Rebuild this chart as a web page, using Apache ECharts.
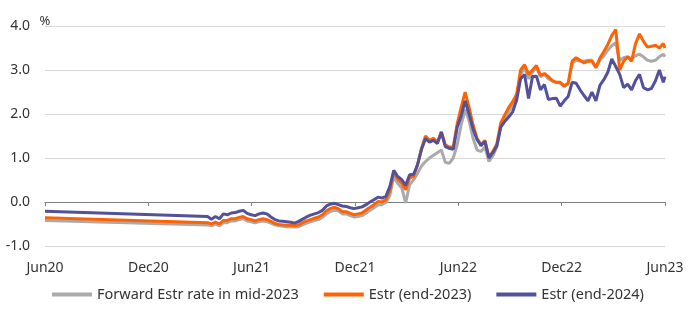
<!DOCTYPE html>
<html><head><meta charset="utf-8">
<script src="https://cdn.jsdelivr.net/npm/echarts@6/dist/echarts.min.js"></script>
<style>html,body{margin:0;padding:0;background:#fff}#c{width:698px;height:327px}</style>
</head><body><div id="c"></div>
<script>
// Tick labels for the x axis (every 6 months from Jun20)
const tickLabels = ['Jun20','Dec20','Jun21','Dec21','Jun22','Dec22','Jun23'];
const axisStart = '2020-06-01';
const axisEnd = '2023-06-01';
// Observation dates: one early point, weekly from 2021-03-15, and a final point
const firstDate = '2020-06-01';
const weeklyStart = '2021-03-15';
const weeklyCount = 116;
const lastDate = '2023-06-01';
const seriesNames = ['Forward Estr rate in mid-2023','Estr (end-2023)','Estr (end-2024)'];

const forwardMid2023 = [-0.42,
 -0.52,-0.54,-0.50,-0.54,-0.47,-0.47,-0.43,-0.43,-0.40,-0.38,
 -0.43,-0.45,-0.47,-0.45,-0.43,-0.45,-0.48,-0.52,-0.54,-0.55,
 -0.56,-0.56,-0.57,-0.56,-0.52,-0.48,-0.45,-0.42,-0.40,-0.35,
 -0.27,-0.22,-0.19,-0.20,-0.27,-0.27,-0.31,-0.34,-0.33,-0.31,
 -0.25,-0.19,-0.13,-0.07,-0.06,-0.01,0.15,0.58,0.42,0.32,
 -0.02,0.40,0.50,0.65,0.82,0.92,1.00,1.06,1.12,1.18,
 0.90,0.88,1.00,1.30,1.75,2.10,1.85,1.45,1.18,1.15,
 1.25,0.92,1.05,1.25,1.75,1.90,2.05,2.20,2.40,2.90,
 3.05,2.80,2.95,3.05,2.85,2.90,2.80,2.75,2.72,2.70,
 2.62,2.68,3.15,3.22,3.20,3.20,3.22,3.22,3.05,3.22,
 3.32,3.45,3.55,3.62,3.22,3.28,3.30,3.26,3.32,3.36,
 3.30,3.22,3.20,3.22,3.30,3.36,
 3.30];

const estrEnd2023 = [-0.36,
 -0.47,-0.50,-0.46,-0.50,-0.42,-0.42,-0.38,-0.38,-0.35,-0.33,
 -0.38,-0.40,-0.43,-0.40,-0.38,-0.40,-0.44,-0.49,-0.51,-0.52,
 -0.53,-0.53,-0.54,-0.52,-0.47,-0.43,-0.40,-0.37,-0.34,-0.29,
 -0.20,-0.15,-0.12,-0.15,-0.22,-0.22,-0.26,-0.29,-0.27,-0.25,
 -0.18,-0.12,-0.06,0.01,0.00,0.05,0.25,0.68,0.52,0.42,
 0.28,0.55,0.58,0.85,1.22,1.50,1.40,1.45,1.36,1.60,
 1.30,1.25,1.25,1.78,2.15,2.50,2.15,1.75,1.45,1.30,
 1.40,1.02,1.15,1.32,1.80,1.98,2.15,2.28,2.45,3.00,
 3.12,2.90,3.00,3.10,2.88,2.92,2.85,2.76,2.72,2.72,
 2.64,2.70,3.20,3.28,3.22,3.16,3.20,3.20,3.06,3.27,
 3.42,3.58,3.78,3.92,3.00,3.20,3.30,3.20,3.60,3.82,
 3.65,3.52,3.54,3.56,3.50,3.60,
 3.50];

const estrEnd2024 = [-0.21,
 -0.33,-0.39,-0.33,-0.38,-0.27,-0.29,-0.25,-0.24,-0.21,-0.19,
 -0.26,-0.29,-0.31,-0.27,-0.25,-0.27,-0.34,-0.40,-0.43,-0.44,
 -0.45,-0.46,-0.48,-0.44,-0.39,-0.34,-0.30,-0.27,-0.24,-0.19,
 -0.09,-0.05,-0.03,-0.06,-0.09,-0.10,-0.13,-0.15,-0.13,-0.11,
 -0.06,0.00,0.05,0.11,0.09,0.13,0.35,0.72,0.58,0.51,
 0.38,0.62,0.63,0.85,1.20,1.44,1.36,1.40,1.33,1.58,
 1.26,1.22,1.20,1.70,1.95,2.30,2.00,1.66,1.42,1.28,
 1.38,1.00,1.12,1.28,1.70,1.83,1.93,2.05,2.32,2.80,
 2.90,2.35,2.85,2.86,2.55,2.67,2.33,2.35,2.36,2.18,
 2.30,2.40,2.72,2.70,2.55,2.42,2.30,2.50,2.30,2.65,
 2.78,2.95,3.25,3.08,2.90,2.60,2.68,2.55,2.76,2.90,
 2.60,2.55,2.58,2.75,3.00,2.72,
 2.85];

const DAY = 86400000;
const t0 = Date.parse(axisStart);
const dates = [firstDate];
for (let k = 0; k < weeklyCount; k++) {
  dates.push(new Date(Date.parse(weeklyStart) + k * 7 * DAY).toISOString().slice(0, 10));
}
dates.push(lastDate);
const dayOf = d => (Date.parse(d) - t0) / DAY;
const span = dayOf(axisEnd);
const pairs = vals => dates.map((d, i) => [dayOf(d), vals[i]]);

const FONT = 'Noto Sans';
const TXT = '#333333';
const chart = echarts.init(document.getElementById('c'), null, {renderer: 'canvas'});
const xCommon = {type: 'value', min: 0, max: span, interval: span / 6, splitLine: {show: false}};
chart.setOption({
  animation: false,
  grid: {left: 45, right: 33, top: 26, bottom: 81, containLabel: false},
  legend: {
    data: seriesNames, top: 287, left: 52, padding: 0, icon: 'rect', itemWidth: 40, itemHeight: 4, itemGap: 25,
    textStyle: {fontFamily: FONT, fontSize: 14.5, color: TXT}
  },
  xAxis: [
    Object.assign({}, xCommon, {
      position: 'bottom',
      axisLine: {show: false, onZero: false}, axisTick: {show: false},
      axisLabel: {fontFamily: FONT, fontSize: 14, color: TXT, margin: 15,
        formatter: v => tickLabels[Math.round(v / (span / 6))]}
    }),
    Object.assign({}, xCommon, {
      position: 'bottom',
      axisLine: {show: true, onZero: true, lineStyle: {color: '#7f7f7f', width: 1}},
      axisTick: {show: true, length: 4, lineStyle: {color: '#7f7f7f'}},
      axisLabel: {show: false}
    })
  ],
  yAxis: {
    type: 'value', min: -1, max: 4, interval: 1,
    name: '%', nameLocation: 'end', nameGap: -2,
    nameTextStyle: {fontFamily: FONT, fontSize: 13, color: TXT, align: 'center'},
    axisLine: {show: false}, axisTick: {show: false},
    axisLabel: {fontFamily: FONT, fontSize: 14, color: TXT, margin: 15, formatter: v => v.toFixed(1)},
    splitLine: {lineStyle: {color: '#d9d9d9', width: 1}}
  },
  series: [
    {name: seriesNames[0], type: 'line', xAxisIndex: 0, data: pairs(forwardMid2023), showSymbol: false,
     color: '#aaaaaa', lineStyle: {width: 3, color: '#aaaaaa'}},
    {name: seriesNames[1], type: 'line', xAxisIndex: 0, data: pairs(estrEnd2023), showSymbol: false,
     color: '#ff6200', lineStyle: {width: 3, color: '#ff6200'}},
    {name: seriesNames[2], type: 'line', xAxisIndex: 0, data: pairs(estrEnd2024), showSymbol: false,
     color: '#525199', lineStyle: {width: 3, color: '#525199'}}
  ]
});
</script></body></html>
